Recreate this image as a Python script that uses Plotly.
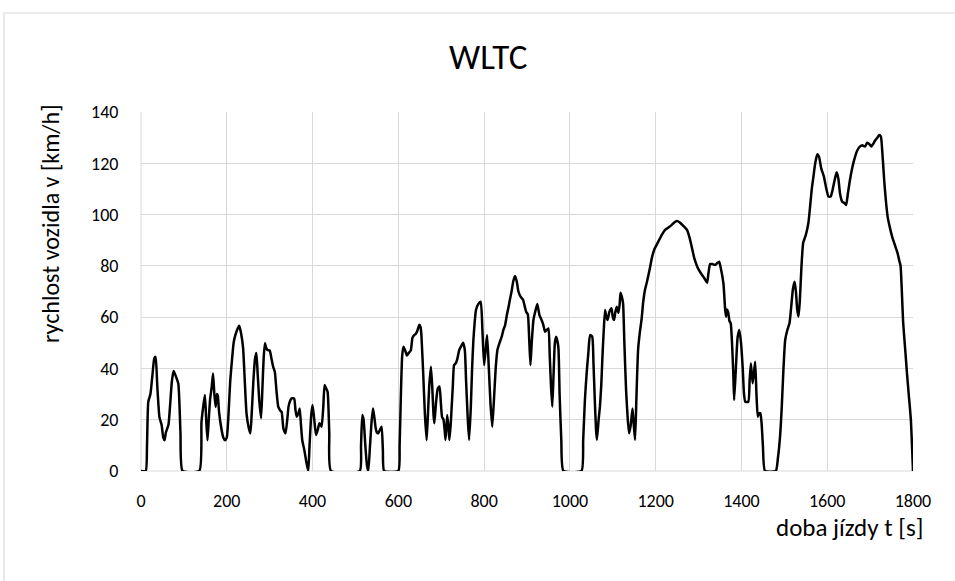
import plotly.graph_objects as go

# WLTC driving cycle: time [s] and vehicle speed [km/h]
t_s = [
    0, 11, 14, 17, 22, 27, 31, 34, 38, 43, 48, 52, 55, 58, 64, 68, 72, 76, 80, 87, 92, 97,
    136, 141, 145, 149, 152, 155, 158, 161, 165, 168, 171, 174, 177, 179, 182, 188, 192, 196,
    200, 204, 208, 212, 216, 219, 224, 229, 233, 238, 242, 246, 251, 255, 258, 262, 266, 269,
    272, 276, 280, 283, 286, 289, 292, 295, 300, 304, 308, 312, 316, 320, 325, 328, 332, 337,
    341, 344, 348, 351, 357, 360, 363, 367, 370, 373, 376, 381, 386, 390, 393, 397, 400, 404,
    408, 412, 416, 421, 425, 428, 431, 435, 439, 443,
    510, 513, 516, 519, 523, 527, 530, 534, 538, 541, 544, 547, 550, 553, 557, 561, 564, 567,
    600, 603, 606, 609, 612, 616, 620, 624, 629, 633, 637, 641, 645, 649, 652, 654, 658, 662,
    666, 669, 672, 676, 679, 682, 684, 688, 692, 696, 699, 702, 705, 708, 710, 712, 714, 717,
    719, 722, 724, 727, 730, 734, 737, 742, 746, 751, 755, 758, 762, 765, 769, 772, 775, 778,
    781, 786, 792, 796, 800, 804, 807, 811, 815, 819, 823, 827, 831, 836, 841, 845, 849, 853,
    857, 860, 864, 868, 872, 876, 880, 885, 891, 895, 898, 902, 905, 908, 911, 915, 919, 924,
    929, 934, 938, 942, 946, 950, 953, 956, 959, 962, 965, 968, 973, 976, 980, 985,
    1027, 1031, 1035, 1039, 1043, 1047, 1052, 1055, 1058, 1061, 1063, 1067, 1070, 1073, 1076,
    1079, 1082, 1085, 1088, 1092, 1097, 1100, 1103, 1106, 1109, 1113, 1116, 1118, 1121, 1124,
    1127, 1131, 1135, 1138, 1142, 1146, 1149, 1152, 1155, 1159, 1163, 1167, 1171, 1175, 1180,
    1187, 1191, 1197, 1206, 1214, 1222, 1230, 1237, 1244, 1249, 1253, 1257, 1265, 1273, 1279,
    1284, 1290, 1297, 1304, 1311, 1316, 1320, 1323, 1327, 1332, 1338, 1343, 1348, 1352, 1358,
    1362, 1364, 1366, 1369, 1372, 1375, 1378, 1381, 1383, 1387, 1391, 1395, 1399, 1403, 1406,
    1409, 1416, 1419, 1422, 1426, 1429, 1432, 1435, 1438, 1441, 1444, 1447, 1450, 1455,
    1480, 1485, 1490, 1494, 1498, 1502, 1507, 1512, 1516, 1520, 1524, 1527, 1530, 1533, 1536,
    1540, 1544, 1550, 1556, 1560, 1564, 1568, 1572, 1577, 1581, 1586, 1592, 1598, 1603, 1608,
    1613, 1618, 1622, 1626, 1630, 1635, 1640, 1644, 1648, 1653, 1658, 1664, 1670, 1676, 1682,
    1688, 1693, 1698, 1703, 1707, 1712, 1717, 1721, 1725, 1729, 1733, 1737, 1741, 1746, 1752,
    1758, 1764, 1768, 1771, 1774, 1777, 1782, 1786, 1790, 1795, 1800,
]
v_kmh = [
    0, 0, 10, 27, 30, 38, 44, 44.5, 33, 21, 18, 13, 12, 15, 18, 26, 35, 39, 37.5, 34, 15, 0,
    0, 19, 25, 29.6, 20, 12, 20, 27.7, 33, 38, 30, 25, 30, 29.5, 23, 16, 13, 12,
    13, 22, 35, 43, 50, 52.4, 55, 56.6, 54, 48, 35, 22.5, 17, 14.7, 22, 35, 44, 46,
    38, 27, 20.6, 32, 44, 49.8, 48, 47.2, 47, 44, 40.7, 38.7, 31, 25.1, 23.5, 23, 16.6, 14.7,
    20, 25.1, 27.5, 28.3, 28.3, 24, 21.2, 22.5, 24.4, 18, 12, 8, 3, 0, 10, 22, 25.7, 20,
    14, 16, 18.6, 17.3, 25, 33.5, 32.5, 30.9, 15, 0,
    0, 10, 21.8, 20, 10, 2, 0, 10, 20, 24.4, 21, 17, 15, 14.7, 16, 17.3, 8, 0,
    0, 10, 30, 45, 48.5, 47, 45, 46, 47, 52, 53, 53.5, 55, 57, 56, 52.4, 38, 22,
    12.1, 22, 33, 40.7, 33, 22, 18.6, 27, 32.2, 33, 27, 21, 20.2, 16, 12.1, 17, 21.8, 17,
    12.1, 18, 23.8, 33, 41.3, 42, 43.3, 47.2, 48.5, 50, 47.2, 35, 20, 12.1, 25, 40, 51.1, 58,
    62.8, 65, 66, 55, 41.3, 48, 53, 40, 26, 17.3, 28, 40, 47.2, 50, 52.4, 55, 56.9, 60.8,
    64, 66.7, 70, 74, 76, 74, 70, 68, 66.7, 64, 62.1, 61, 52, 41.3, 50, 58.9, 62, 65.1,
    60.8, 58.9, 57, 54.3, 55, 55.6, 45, 33, 25.1, 38, 50, 52.4, 48.5, 30, 12, 0,
    0, 12, 27.7, 38, 46, 53, 52.4, 42, 28, 16, 12.1, 20, 25.1, 33, 45,
    55, 62.8, 60, 58.9, 62, 63.5, 60, 58.9, 62, 64.1, 61.7, 65, 69.5, 68, 65.4,
    50, 31.6, 20, 14.7, 18, 24.4, 18, 12.1, 28, 47.2, 54, 58.9, 66, 70.6, 74,
    79.5, 83, 86.5, 89.4, 92, 94, 95, 95.9, 97, 97.5, 97.3, 96.8, 95.5, 94, 91,
    87.5, 83, 79.7, 77.5, 75.8, 74.5, 73.4, 77, 80.7, 80.7, 80.3, 81, 81.6, 79, 73.2,
    63, 60.2, 63, 62, 58.5, 57.6, 50, 38, 27.7, 40, 52, 55, 50, 40, 30,
    27, 27, 35, 42, 34.2, 38, 42.6, 30, 21.2, 22.5, 22.5, 18.6, 10, 0,
    0, 5, 13.4, 25, 40, 51.1, 55, 57.6, 64, 71, 73.8, 70, 63, 60.2, 66,
    80, 89, 92, 96.6, 103, 110, 115, 120, 123.5, 122.5, 118, 115, 110, 107, 107,
    110, 114, 116.5, 114, 108, 105, 104.5, 103.7, 108, 113.5, 118, 122, 125, 126.5, 127,
    126.5, 128, 127.5, 126.5, 127.5, 129, 130, 131, 130.5, 123, 113, 105, 99, 95, 91,
    88, 85, 82, 80, 70, 58, 47, 38, 30, 20, 0,
]

x_ticks = [0, 200, 400, 600, 800, 1000, 1200, 1400, 1600, 1800]
y_ticks = [0, 20, 40, 60, 80, 100, 120, 140]

FONT = "Carlito, Calibri, Lato, sans-serif"
GRID = "#d9d9d9"

fig = go.Figure(
    go.Scatter(
        x=t_s,
        y=v_kmh,
        mode="lines",
        line=dict(color="black", width=2.5, shape="spline", smoothing=0.5),
        hoverinfo="x+y",
    )
)

fig.update_layout(
    width=955,
    height=581,
    margin=dict(l=141, r=42, t=112, b=110),
    paper_bgcolor="white",
    plot_bgcolor="white",
    showlegend=False,
    font=dict(family=FONT, color="#000000"),
)

fig.update_xaxes(
    range=[0, 1800],
    tickvals=x_ticks,
    ticktext=[str(v) for v in x_ticks],
    showgrid=True,
    gridcolor=GRID,
    gridwidth=1,
    zeroline=False,
    showline=False,
    ticks="outside",
    ticklen=13,
    tickcolor="rgba(0,0,0,0)",
    tickfont=dict(size=18, family=FONT, color="#000000"),
)
fig.update_yaxes(
    range=[0, 140],
    tickvals=y_ticks,
    showgrid=True,
    gridcolor=GRID,
    gridwidth=1,
    zeroline=False,
    showline=False,
    ticks="outside",
    ticklen=18,
    tickcolor="rgba(0,0,0,0)",
    tickfont=dict(size=18, family=FONT, color="#000000"),
)

# bottom and left grid lines drawn as boundary lines
fig.add_shape(type="line", xref="paper", yref="paper", x0=0, x1=1, y0=0, y1=0,
              line=dict(color=GRID, width=1), layer="below")
fig.add_shape(type="line", xref="paper", yref="paper", x0=0, x1=0, y0=0, y1=1,
              line=dict(color=GRID, width=1), layer="below")

# chart frame
fig.add_shape(type="rect", xref="paper", yref="paper",
              x0=-0.1775, x1=1.07, y0=-0.34, y1=1.2758,
              line=dict(color=GRID, width=1.2), fillcolor="rgba(0,0,0,0)")

fig.add_annotation(text="WLTC", xref="paper", yref="paper", x=0.4495, y=1.153,
                   xanchor="center", yanchor="middle", showarrow=False,
                   font=dict(size=35, family=FONT, color="#000000"))
fig.add_annotation(text="rychlost vozidla v [km/h]", xref="paper", yref="paper",
                   x=-0.118, y=0.688, textangle=-90, xanchor="center", yanchor="middle",
                   showarrow=False, font=dict(size=24, family=FONT, color="#000000"))
fig.add_annotation(text="doba jízdy t [s]", xref="paper", yref="paper",
                   x=1.0155, y=-0.156, xanchor="right", yanchor="middle",
                   showarrow=False, font=dict(size=25, family=FONT, color="#000000"))

fig.write_html("out.html")
